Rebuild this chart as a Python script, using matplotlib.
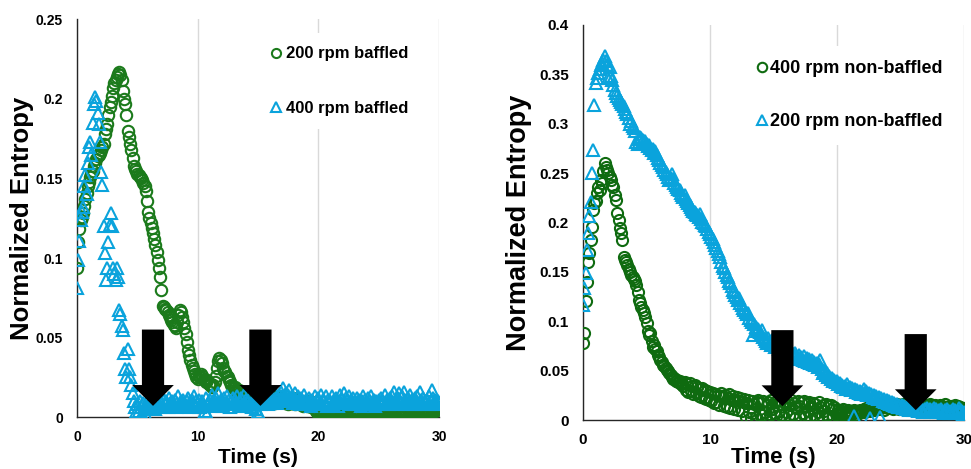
import numpy as np
import matplotlib
matplotlib.use("Agg")
import matplotlib.pyplot as plt

plt.rcParams["font.family"] = ["Liberation Sans", "DejaVu Sans"]
plt.rcParams["font.weight"] = "bold"

# Sampling interval of the entropy traces (s)
FRAME_DT = 0.1

# ---- Baffled flask -------------------------------------------------------
entropy_200_baffled = [
    0.094, 0.110, 0.118, 0.124, 0.126, 0.128, 0.133, 0.137, 0.141, 0.145,
    0.148, 0.151, 0.153, 0.155, 0.158, 0.160, 0.162, 0.164, 0.165, 0.166,
    0.168, 0.170, 0.172, 0.178, 0.181, 0.184, 0.190, 0.195, 0.198, 0.202,
    0.207, 0.210, 0.212, 0.214, 0.216, 0.217, 0.215, 0.212, 0.205, 0.200,
    0.197, 0.190, 0.180, 0.176, 0.172, 0.168, 0.163, 0.158, 0.156, 0.155,
    0.153, 0.152, 0.151, 0.150, 0.149, 0.147, 0.145, 0.142, 0.136, 0.129,
    0.125, 0.122, 0.119, 0.116, 0.112, 0.108, 0.104, 0.099, 0.094, 0.088,
    0.080, 0.070, 0.069, 0.068, 0.067, 0.066, 0.064, 0.063, 0.061, 0.060,
    0.058, 0.057, 0.056, 0.060, 0.064, 0.067, 0.066, 0.063, 0.060, 0.056,
    0.052, 0.047, 0.042, 0.039, 0.036, 0.033, 0.031, 0.029, 0.027, 0.025,
    0.024, 0.026, 0.025, 0.027, 0.026, 0.024, 0.023, 0.022, 0.023, 0.021,
    0.020, 0.021, 0.019, 0.020, 0.022, 0.026, 0.031, 0.035, 0.037, 0.036,
    0.034, 0.031, 0.029, 0.028, 0.026, 0.025, 0.023, 0.022, 0.020, 0.019,
    0.018, 0.019, 0.017, 0.016, 0.017, 0.015, 0.016, 0.014, 0.015, 0.013,
    0.014, 0.012, 0.013, 0.011, 0.014, 0.012, 0.010, 0.013, 0.011, 0.012,
    0.013, 0.011, 0.010, 0.012, 0.014, 0.011, 0.009, 0.012, 0.013, 0.010,
    0.011, 0.013, 0.010, 0.012, 0.009, 0.011, 0.013, 0.010, 0.012, 0.011,
    0.010, 0.012, 0.009, 0.011, 0.010, 0.008, 0.011, 0.009, 0.010, 0.012,
    0.009, 0.008, 0.010, 0.011, 0.008, 0.009, 0.010, 0.007, 0.009, 0.008,
    0.009, 0.007, 0.008, 0.010, 0.006, 0.008, 0.007, 0.005, 0.004, 0.003,
    0.002, 0.001, 0.003, 0.002, 0.001, 0.002, 0.003, 0.001, 0.002, 0.003,
    0.003, 0.004, 0.002, 0.003, 0.005, 0.004, 0.003, 0.002, 0.004, 0.003,
    0.004, 0.003, 0.005, 0.004, 0.003, 0.005, 0.004, 0.006, 0.003, 0.004,
    0.005, 0.004, 0.003, 0.005, 0.004, 0.006, 0.005, 0.003, 0.004, 0.005,
    0.004, 0.005, 0.003, 0.004, 0.006, 0.004, 0.003, 0.005, 0.004, 0.003,
    0.002, 0.001, 0.003, 0.004, 0.003, 0.005, 0.004, 0.003, 0.004, 0.005,
    0.004, 0.003, 0.005, 0.004, 0.006, 0.005, 0.003, 0.004, 0.005, 0.004,
    0.003, 0.005, 0.004, 0.003, 0.005, 0.004, 0.006, 0.004, 0.003, 0.005,
    0.004, 0.003, 0.005, 0.004, 0.003, 0.002, 0.004, 0.005, 0.003, 0.004,
    0.005, 0.004, 0.003, 0.005, 0.004, 0.006, 0.005, 0.004, 0.005, 0.006,
    0.005,
]

entropy_400_baffled = [
    0.081, 0.099, 0.111, 0.124, 0.129, 0.132, 0.145, 0.152, 0.140, 0.160,
    0.170, 0.173, 0.165, 0.185, 0.197, 0.201, 0.199, 0.191, 0.184, 0.173,
    0.154, 0.146, 0.120, 0.103, 0.086, 0.094, 0.110, 0.121, 0.128, 0.120,
    0.094, 0.090, 0.086, 0.094, 0.088, 0.067, 0.065, 0.057, 0.055, 0.040,
    0.030, 0.025, 0.043, 0.030, 0.025, 0.020, 0.015, 0.010, 0.006, 0.003,
    0.008, 0.004, 0.010, 0.006, 0.002, 0.009, 0.005, 0.001, 0.007, 0.011,
    0.008, 0.006, 0.011, 0.007, 0.009, 0.005, 0.010, 0.008, 0.012, 0.006,
    0.009, 0.007, 0.011, 0.008, 0.010, 0.006, 0.012, 0.009, 0.007, 0.010,
    0.008, 0.011, 0.006, 0.009, 0.013, 0.007, 0.010, 0.008, 0.011, 0.009,
    0.007, 0.010, 0.012, 0.008, 0.006, 0.011, 0.009, 0.013, 0.007, 0.010,
    0.009, 0.011, 0.006, 0.008, 0.010, 0.007, 0.004, 0.012, 0.002, 0.009,
    0.011, 0.008, 0.014, 0.010, 0.007, 0.012, 0.009, 0.015, 0.008, 0.011,
    0.010, 0.007, 0.012, 0.009, 0.013, 0.008, 0.011, 0.006, 0.010, 0.012,
    0.008, 0.011, 0.009, 0.013, 0.007, 0.010, 0.012, 0.008, 0.014, 0.009,
    0.011, 0.007, 0.010, 0.012, 0.008, 0.006, 0.011, 0.009, 0.005, 0.010,
    0.003, 0.001, 0.008, 0.011, 0.009, 0.013, 0.010, 0.012, 0.008, 0.014,
    0.011, 0.009, 0.013, 0.010, 0.015, 0.012, 0.009, 0.014, 0.011, 0.016,
    0.013, 0.018, 0.012, 0.015, 0.010, 0.014, 0.017, 0.011, 0.013, 0.009,
    0.012, 0.015, 0.010, 0.013, 0.011, 0.008, 0.012, 0.010, 0.014, 0.009,
    0.011, 0.008, 0.012, 0.010, 0.007, 0.011, 0.009, 0.013, 0.008, 0.010,
    0.012, 0.009, 0.014, 0.008, 0.011, 0.010, 0.013, 0.007, 0.011, 0.009,
    0.010, 0.013, 0.008, 0.011, 0.009, 0.012, 0.007, 0.010, 0.014, 0.009,
    0.011, 0.015, 0.009, 0.012, 0.010, 0.013, 0.008, 0.011, 0.009, 0.012,
    0.010, 0.008, 0.012, 0.009, 0.011, 0.007, 0.010, 0.013, 0.008, 0.011,
    0.009, 0.012, 0.008, 0.010, 0.013, 0.009, 0.011, 0.007, 0.010, 0.008,
    0.011, 0.009, 0.012, 0.008, 0.010, 0.014, 0.009, 0.011, 0.008, 0.012,
    0.010, 0.013, 0.009, 0.016, 0.011, 0.008, 0.012, 0.015, 0.010, 0.013,
    0.009, 0.016, 0.011, 0.008, 0.012, 0.010, 0.014, 0.009, 0.011, 0.008,
    0.012, 0.010, 0.013, 0.009, 0.016, 0.011, 0.008, 0.012, 0.010, 0.009,
    0.011, 0.008, 0.013, 0.010, 0.017, 0.012, 0.009, 0.011, 0.008, 0.010,
    0.009,
]

# ---- Non-baffled flask ---------------------------------------------------
entropy_400_nonbaffled = [
    0.078, 0.088, 0.121, 0.140, 0.160, 0.169, 0.182, 0.195, 0.213, 0.220,
    0.222, 0.230, 0.236, 0.233, 0.243, 0.240, 0.252, 0.260, 0.256, 0.253,
    0.250, 0.246, 0.243, 0.238, 0.236, 0.228, 0.223, 0.210, 0.203, 0.194,
    0.189, 0.182, 0.165, 0.162, 0.160, 0.157, 0.153, 0.150, 0.147, 0.145,
    0.143, 0.141, 0.137, 0.130, 0.122, 0.118, 0.114, 0.111, 0.108, 0.104,
    0.098, 0.090, 0.086, 0.088, 0.080, 0.074, 0.076, 0.072, 0.070, 0.066,
    0.064, 0.061, 0.059, 0.056, 0.055, 0.053, 0.051, 0.050, 0.048, 0.046,
    0.044, 0.042, 0.043, 0.040, 0.041, 0.038, 0.039, 0.036, 0.037, 0.034,
    0.038, 0.030, 0.036, 0.028, 0.037, 0.029, 0.034, 0.026, 0.035, 0.027,
    0.033, 0.024, 0.031, 0.023, 0.032, 0.022, 0.030, 0.021, 0.029, 0.020,
    0.028, 0.019, 0.027, 0.017, 0.026, 0.018, 0.025, 0.015, 0.024, 0.027,
    0.023, 0.014, 0.025, 0.013, 0.022, 0.026, 0.012, 0.020, 0.024, 0.011,
    0.020, 0.023, 0.010, 0.019, 0.022, 0.009, 0.018, 0.021, 0.003, 0.017,
    0.020, 0.008, 0.002, 0.019, 0.007, 0.016, 0.003, 0.018, 0.020, 0.006,
    0.017, 0.005, 0.019, 0.008, 0.002, 0.015, 0.018, 0.006, 0.020, 0.011,
    0.007, 0.018, 0.004, 0.019, 0.009, 0.020, 0.005, 0.016, 0.003, 0.017,
    0.008, 0.019, 0.005, 0.015, 0.020, 0.006, 0.017, 0.002, 0.012, 0.019,
    0.014, 0.004, 0.018, 0.007, 0.019, 0.003, 0.016, 0.009, 0.018, 0.004,
    0.012, 0.017, 0.005, 0.016, 0.002, 0.008, 0.018, 0.013, 0.004, 0.015,
    0.009, 0.016, 0.005, 0.014, 0.003, 0.015, 0.011, 0.004, 0.013, 0.006,
    0.007, 0.010, 0.008, 0.006, 0.009, 0.011, 0.007, 0.005, 0.008, 0.010,
    0.007, 0.009, 0.006, 0.010, 0.008, 0.005, 0.009, 0.007, 0.010, 0.008,
    0.009, 0.011, 0.008, 0.012, 0.010, 0.013, 0.009, 0.011, 0.014, 0.010,
    0.012, 0.015, 0.011, 0.013, 0.016, 0.012, 0.014, 0.010, 0.013, 0.015,
    0.012, 0.014, 0.017, 0.013, 0.011, 0.015, 0.012, 0.016, 0.013, 0.011,
    0.014, 0.012, 0.016, 0.013, 0.017, 0.011, 0.014, 0.012, 0.015, 0.013,
    0.011, 0.014, 0.016, 0.012, 0.015, 0.013, 0.017, 0.012, 0.014, 0.011,
    0.015, 0.013, 0.012, 0.016, 0.014, 0.011, 0.013, 0.015, 0.012, 0.014,
    0.013, 0.015, 0.011, 0.014, 0.012, 0.016, 0.013, 0.011, 0.014, 0.012,
    0.014, 0.012, 0.013, 0.015, 0.011, 0.014, 0.012, 0.013, 0.011, 0.012,
    0.012,
]

entropy_200_nonbaffled = [
    0.116, 0.134, 0.149, 0.172, 0.189, 0.207, 0.221, 0.250, 0.273, 0.319,
    0.341, 0.346, 0.351, 0.355, 0.359, 0.362, 0.365, 0.369, 0.364, 0.360,
    0.346, 0.357, 0.348, 0.344, 0.339, 0.334, 0.331, 0.328, 0.326, 0.324,
    0.322, 0.320, 0.318, 0.315, 0.312, 0.310, 0.306, 0.300, 0.303, 0.298,
    0.296, 0.293, 0.282, 0.279, 0.285, 0.287, 0.286, 0.284, 0.281, 0.283,
    0.279, 0.277, 0.278, 0.275, 0.273, 0.274, 0.270, 0.272, 0.268, 0.265,
    0.263, 0.260, 0.258, 0.256, 0.253, 0.251, 0.249, 0.246, 0.243, 0.245,
    0.249, 0.244, 0.240, 0.238, 0.236, 0.234, 0.233, 0.230, 0.228, 0.226,
    0.228, 0.224, 0.222, 0.220, 0.218, 0.216, 0.214, 0.212, 0.211, 0.209,
    0.208, 0.206, 0.209, 0.204, 0.201, 0.199, 0.197, 0.196, 0.193, 0.190,
    0.188, 0.185, 0.183, 0.180, 0.177, 0.174, 0.171, 0.168, 0.165, 0.160,
    0.156, 0.154, 0.150, 0.147, 0.145, 0.141, 0.139, 0.136, 0.132, 0.130,
    0.127, 0.125, 0.122, 0.124, 0.118, 0.116, 0.113, 0.111, 0.109, 0.107,
    0.108, 0.103, 0.101, 0.099, 0.086, 0.097, 0.094, 0.090, 0.092, 0.089,
    0.087, 0.091, 0.084, 0.082, 0.080, 0.078, 0.083, 0.079, 0.076, 0.081,
    0.077, 0.074, 0.078, 0.075, 0.072, 0.076, 0.073, 0.070, 0.074, 0.071,
    0.069, 0.072, 0.068, 0.066, 0.070, 0.067, 0.064, 0.068, 0.065, 0.063,
    0.066, 0.062, 0.064, 0.061, 0.065, 0.060, 0.063, 0.059, 0.062, 0.058,
    0.061, 0.057, 0.059, 0.056, 0.058, 0.054, 0.057, 0.061, 0.052, 0.048,
    0.050, 0.046, 0.048, 0.044, 0.045, 0.042, 0.043, 0.040, 0.041, 0.038,
    0.039, 0.036, 0.037, 0.034, 0.035, 0.033, 0.034, 0.031, 0.036, 0.032,
    0.033, 0.030, 0.032, 0.004, 0.031, 0.028, 0.030, 0.027, 0.029, 0.026,
    0.028, 0.031, 0.026, 0.029, 0.025, 0.027, 0.002, 0.026, 0.023, 0.025,
    0.022, 0.024, 0.021, 0.023, 0.003, 0.022, 0.019, 0.021, 0.018, 0.020,
    0.017, 0.019, 0.016, 0.018, 0.015, 0.017, 0.014, 0.016, 0.013, 0.015,
    0.013, 0.015, 0.012, 0.014, 0.011, 0.013, 0.012, 0.010, 0.013, 0.011,
    0.012, 0.010, 0.013, 0.011, 0.009, 0.012, 0.010, 0.011, 0.008, 0.011,
    0.010, 0.012, 0.009, 0.011, 0.008, 0.010, 0.012, 0.009, 0.011, 0.008,
    0.010, 0.008, 0.011, 0.009, 0.007, 0.010, 0.008, 0.011, 0.009, 0.007,
    0.009, 0.011, 0.008, 0.010, 0.007, 0.009, 0.012, 0.008, 0.010, 0.006,
    0.008,
]

# Mixing-time markers: (time in s, arrow top, arrow tip) in data units
arrows_baffled = [(6.3, 0.055, 0.007), (15.2, 0.055, 0.007)]
arrows_nonbaffled = [(15.7, 0.091, 0.014), (26.2, 0.087, 0.010)]

GREEN_L = "#1b7a1b"
GREEN_R = "#0f6b10"
BLUE = "#0aa3dc"
GRID = "#d9d9d9"
SPINE = "#262626"

x_ticks = [0, 10, 20, 30]
x_ticklabels = ["0", "10", "20", "30"]
y_ticks_baffled = [0, 0.05, 0.1, 0.15, 0.2, 0.25]
y_ticklabels_baffled = ["0", "0.05", "0.1", "0.15", "0.2", "0.25"]
y_ticks_nonbaffled = [0, 0.05, 0.1, 0.15, 0.2, 0.25, 0.3, 0.35, 0.4]
y_ticklabels_nonbaffled = ["0", "0.05", "0.1", "0.15", "0.2", "0.25", "0.3",
                           "0.35", "0.4"]


def times(values):
    return np.arange(len(values)) * FRAME_DT


W, H = 971, 469
fig = plt.figure(figsize=(W / 100, H / 100), dpi=100)
axL = fig.add_axes([77 / W, 1 - 417 / H, (439 - 77) / W, (417 - 19.5) / H])
axR = fig.add_axes([583 / W, 1 - 420 / H, (964 - 583) / W, (420 - 25) / H])


def style_axes(ax, ymax, yticks, yticklabels, tick_fs, xpad, ypad):
    ax.set_xlim(0, 30)
    ax.set_ylim(0, ymax)
    ax.set_xticks(x_ticks)
    ax.set_xticklabels(x_ticklabels)
    ax.set_yticks(yticks)
    ax.set_yticklabels(yticklabels)
    for s in ("top", "right"):
        ax.spines[s].set_visible(False)
    for s in ("left", "bottom"):
        ax.spines[s].set_color(SPINE)
        ax.spines[s].set_linewidth(1.0)
        ax.spines[s].set_zorder(1)
    ax.xaxis.grid(True, color=GRID, linewidth=1.0)
    ax.set_axisbelow(True)
    ax.tick_params(axis="both", length=0, labelsize=tick_fs)
    ax.tick_params(axis="x", pad=xpad)
    ax.tick_params(axis="y", pad=ypad)
    for lab in ax.get_xticklabels() + ax.get_yticklabels():
        lab.set_fontweight("bold")


def draw_arrows(ax, arrows):
    for t, top, tip in arrows:
        ax.annotate(
            "", xy=(t, tip), xytext=(t, top), xycoords="data",
            arrowprops=dict(
                arrowstyle="simple,head_length=15,head_width=30,tail_width=16",
                facecolor="black", edgecolor="none", linewidth=0,
                shrinkA=0, shrinkB=0, mutation_scale=1),
            zorder=10, annotation_clip=False)


# ---- Left panel: baffled -------------------------------------------------
style_axes(axL, 0.25, y_ticks_baffled, y_ticklabels_baffled, 10, 9, 10)
axL.plot(times(entropy_200_baffled), entropy_200_baffled, linestyle="none",
         marker="o", markersize=8.2, markerfacecolor="none",
         markeredgecolor=GREEN_L, markeredgewidth=1.5,
         label="200 rpm baffled", zorder=3)
axL.plot(times(entropy_400_baffled), entropy_400_baffled, linestyle="none",
         marker="^", markersize=9, markerfacecolor="none",
         markeredgecolor=BLUE, markeredgewidth=1.5,
         label="400 rpm baffled", zorder=4)
draw_arrows(axL, arrows_baffled)
axL.set_ylabel("Normalized Entropy", fontsize=18.5, fontweight="bold",
               va="center")
axL.yaxis.set_label_coords(-0.152, 0.5)
axL.set_xlabel("Time (s)", fontsize=15, fontweight="bold", va="center")
axL.xaxis.set_label_coords(0.5, -0.103)
legL = axL.legend(loc="upper left", bbox_to_anchor=(0.4906, 0.966),
                  borderaxespad=0, borderpad=0.8, frameon=True,
                  facecolor="white", edgecolor="none", framealpha=1,
                  fancybox=False, handlelength=1.0, handletextpad=0.1,
                  labelspacing=2.35, markerscale=0.8,
                  prop={"size": 12, "weight": "bold"})
legL.set_zorder(6)

# ---- Right panel: non-baffled --------------------------------------------
style_axes(axR, 0.4, y_ticks_nonbaffled, y_ticklabels_nonbaffled, 11, 9, 10)
axR.plot(times(entropy_400_nonbaffled), entropy_400_nonbaffled,
         linestyle="none", marker="o", markersize=8, markerfacecolor="none",
         markeredgecolor=GREEN_R, markeredgewidth=1.5,
         label="400 rpm non-baffled", zorder=3)
axR.plot(times(entropy_200_nonbaffled), entropy_200_nonbaffled,
         linestyle="none", marker="^", markersize=9, markerfacecolor="none",
         markeredgecolor=BLUE, markeredgewidth=1.5,
         label="200 rpm non-baffled", zorder=4)
draw_arrows(axR, arrows_nonbaffled)
axR.set_ylabel("Normalized Entropy", fontsize=19.5, fontweight="bold",
               va="center")
axR.yaxis.set_label_coords(-0.168, 0.5)
axR.set_xlabel("Time (s)", fontsize=16, fontweight="bold", va="center")
axR.xaxis.set_label_coords(0.5, -0.094)
legR = axR.legend(loc="upper left", bbox_to_anchor=(0.413, 0.948),
                  borderaxespad=0, borderpad=0.8, frameon=True,
                  facecolor="white", edgecolor="none", framealpha=1,
                  fancybox=False, handlelength=0.8, handletextpad=0.05,
                  labelspacing=2.0, markerscale=0.85,
                  prop={"size": 13, "weight": "bold"})
legR.set_zorder(6)

fig.savefig("out.png", dpi=100, facecolor="white")
